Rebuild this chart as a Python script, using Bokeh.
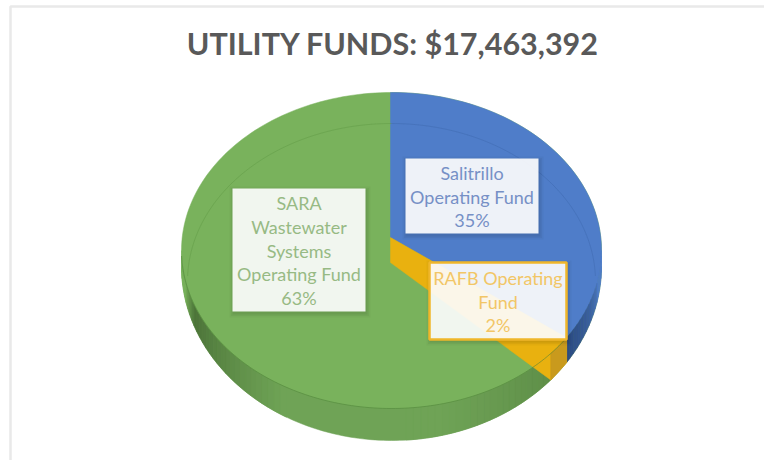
import math
from bokeh.plotting import figure
from bokeh.models import Range1d
from bokeh.core.properties import value
from bokeh.embed import file_html
from bokeh.resources import INLINE

TITLE = "UTILITY FUNDS: $17,463,392"
# slices, clockwise from 12 o'clock
categories = ["Salitrillo\nOperating Fund", "RAFB Operating\nFund", "SARA\nWastewater\nSystems\nOperating Fund"]
shares = [35, 2, 63]
top_colors = ["#4f7dc9", "#e9b10f", "#79b25c"]
text_colors = ["#7690c6", "#f2c666", "#97ba84"]
box_fills = ["#ffffff", "#ffffff", "#ffffff"]
box_lines = [None, "#efb62a", None]
# label boxes: left, right, top, bottom
boxes = [(405, 538, 158, 233), (429, 566, 262, 339), (232, 365, 188, 311)]
line_steps = [23.7, 23.7, 23.7]

FONT = "Lato"
CX, RX = 391.0, 210.0
TOP_CY, TOP_RY = 250.0, 158.0      # upper face
HULL_CY, HULL_RY = 266.0, 174.0    # outline incl. the side wall
BOT_CY, BOT_RX = 281.0, 204.0      # faint seen-through lower rim
APEX_UP, APEX_DOWN = 13.0, 12.0
TILT = 2.5                         # degrees the cuts lean because of perspective


def pt(deg, cy, ry, rx=RX):
    a = math.radians(deg)
    return CX + rx * math.sin(a), cy - ry * math.cos(a)


def arc(d0, d1, cy, ry, rx=RX, n=80):
    return [pt(d0 + (d1 - d0) * i / n, cy, ry, rx) for i in range(n + 1)]


def mix(c1, c2, t):
    a = [int(c1[i:i + 2], 16) for i in (1, 3, 5)]
    b = [int(c2[i:i + 2], 16) for i in (1, 3, 5)]
    return "#%02x%02x%02x" % tuple(round(x + (y - x) * t) for x, y in zip(a, b))


p = figure(width=764, height=460, x_range=Range1d(0, 764), y_range=Range1d(460, 0),
           output_backend="svg", toolbar_location=None, min_border=0,
           background_fill_color="#ffffff",
           border_fill_color="#ffffff", outline_line_color=None)
p.axis.visible = False
p.grid.visible = False


def poly(points, color, alpha=1.0):
    p.patch([q[0] for q in points], [q[1] for q in points], fill_color=color,
            fill_alpha=alpha, line_color=color, line_alpha=alpha, line_width=0.5)


def line(points, color, alpha, width=1.0):
    p.line([q[0] for q in points], [q[1] for q in points], line_color=color,
           line_alpha=alpha, line_width=width)


# frame of the picture
p.line([764, 10, 10], [6, 6, 460], line_color="#e9e9e9", line_width=2.5)

a1 = 360 * shares[0] / 100 - TILT
a2 = 360 * (shares[0] + shares[1]) / 100 - TILT
SIDE = "#6fa356"

# side wall and upper face
poly(arc(90, 270, HULL_CY, HULL_RY, n=160), SIDE)
dark = "#4c7439"
for d in range(270, 210, -2):
    if d > 250:
        c = mix(dark, top_colors[2], min(1, (d - 250) / 10))
    else:
        c = mix(SIDE, dark, (d - 212) / 38)
    poly(arc(d, d - 2, TOP_CY, TOP_RY, n=2) + arc(d - 2, d, HULL_CY, HULL_RY, n=2), c)
for d in range(int(a2), 175, 2):
    t = max(0, 1 - (d - a2) / 35)
    c = mix(SIDE, "#5f8f49", t)
    poly(arc(d, d + 2, TOP_CY, TOP_RY, n=2) + arc(d + 2, d, HULL_CY, HULL_RY, n=2), c)
poly(arc(0, 360, TOP_CY, TOP_RY, n=240), top_colors[2])

# blue slice
apex_b = (CX - 1, TOP_CY - APEX_UP)
apex_g = (CX - 1, TOP_CY + APEX_DOWN)
poly([apex_b, (CX - 1, TOP_CY - TOP_RY)] + arc(0, a1, TOP_CY, TOP_RY, n=80), top_colors[0])
for d in range(90, int(a1), 2):
    t = max(0, (d - 100) / (a1 - 100))
    e = min(d + 2, a1)
    poly(arc(d, e, TOP_CY, TOP_RY, n=2) + arc(e, d, HULL_CY, HULL_RY, n=2),
         mix(top_colors[0], "#2b4a80", t ** 0.6))

# yellow slice with its wall
poly([apex_b, pt(a1, TOP_CY, TOP_RY), pt(a1, HULL_CY, HULL_RY), pt(a2, HULL_CY, HULL_RY), apex_g], top_colors[1])
poly(arc(a1, a2, TOP_CY, TOP_RY, n=8) + arc(a2, a1, HULL_CY, HULL_RY, n=8), "#c99a1d")

# rim lines
line(arc(a1, 268, TOP_CY, TOP_RY, n=120), "#4d7f36", 0.55, 1.0)
line(arc(-88, 0, BOT_CY, TOP_RY, BOT_RX), "#5f9a45", 0.45, 1.0)
line(arc(0, 88, BOT_CY, TOP_RY, BOT_RX), "#3f68ae", 0.45, 1.0)

# title
p.text([392.5], [42], text=[TITLE], text_font=value(FONT), text_font_size="30.5px",
       text_font_style="bold", text_color="#595959", text_align="center", text_baseline="middle")

# data labels
for cat, share, box, fill, edge, colour, step in zip(categories, shares, boxes, box_fills, box_lines, text_colors, line_steps):
    l, r, t, b = box
    for k, al in ((4, 0.03), (2.5, 0.04), (1, 0.05)):
        p.quad(left=[l - k + 1], right=[r + k + 1], top=[t - k + 2], bottom=[b + k + 2],
               fill_color="#000000", fill_alpha=al, line_color=None)
    p.quad(left=[l], right=[r], top=[t], bottom=[b], fill_color=fill, fill_alpha=0.91,
           line_color=edge, line_width=2.5 if edge else 0)
    rows = cat.split("\n") + [f"{share}%"]
    mid = (t + b) / 2 + 0.5
    ys = [mid + (i - (len(rows) - 1) / 2) * step for i in range(len(rows))]
    p.text([(l + r) / 2] * len(rows), ys, text=rows, text_font=value(FONT), text_font_size="18px",
           text_color=colour, text_align="center", text_baseline="middle")

open("out.html", "w").write(file_html(p, INLINE))
